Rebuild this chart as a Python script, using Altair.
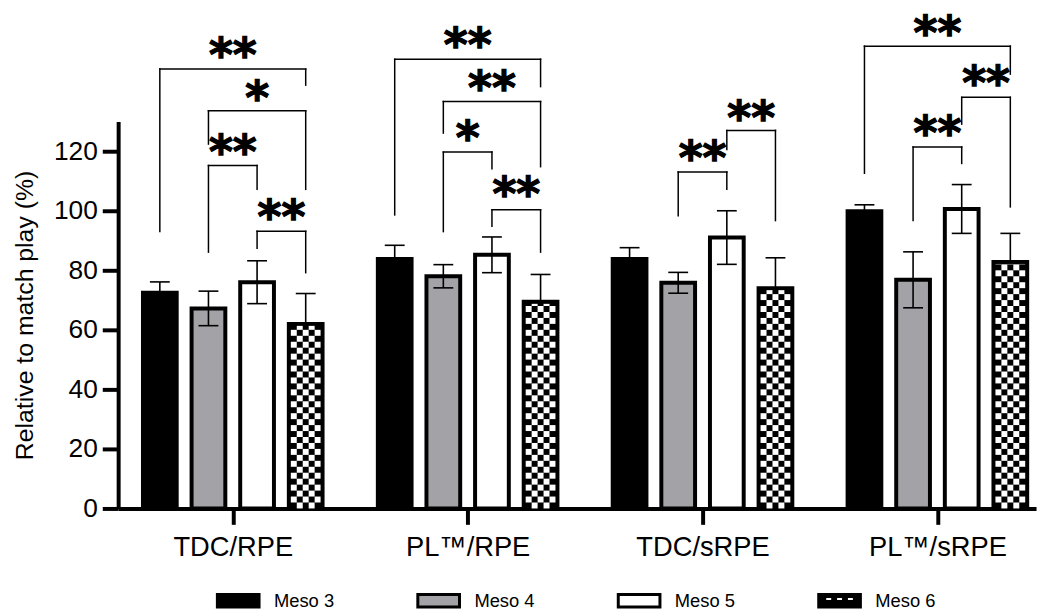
import json
import math
import altair as alt
import pandas as pd

# ---------------- data ----------------
groups = ["TDC/RPE", "PL™/RPE", "TDC/sRPE", "PL™/sRPE"]
series = ["Meso 3", "Meso 4", "Meso 5", "Meso 6"]
meso3 = [72.5, 83.8, 83.8, 99.8]
meso4 = [67.2, 78.0, 75.8, 76.8]
meso5 = [76.0, 85.2, 91.0, 100.6]
meso6 = [62.0, 69.4, 74.0, 82.8]
sd3 = [3.6, 4.6, 3.8, 2.2]
sd4 = [5.8, 3.9, 3.5, 9.4]
sd5 = [7.2, 6.0, 9.0, 8.2]
sd6 = [10.2, 9.2, 10.2, 9.6]
y_ticks = [0, 20, 40, 60, 80, 100, 120]

# significance brackets
br_group = [0, 0, 0, 0, 1, 1, 1, 1, 2, 2, 3, 3, 3]
br_left = [0, 1, 1, 2, 0, 1, 1, 2, 1, 2, 0, 2, 1]
br_right = [3, 3, 2, 3, 3, 3, 2, 3, 2, 3, 3, 3, 2]
br_level = [147.6, 133.6, 115.2, 93.1, 150.9, 136.7, 119.7, 100.3, 113.0, 127.0, 155.3, 138.1, 121.4]
br_foot_l = [93.0, 122.4, 86.1, 87.4, 98.6, 126.1, 93.0, 94.8, 98.3, 120.6, 112.6, 129.1, 96.7]
br_foot_r = [142.2, 107.2, 107.2, 79.2, 141.7, 114.8, 114.1, 86.1, 107.2, 96.7, 145.9, 101.3, 115.9]
br_label = ["**", "*", "**", "**", "**", "**", "*", "**", "**", "**", "**", "**", "**"]
br_text_y = [155.0, 140.5, 122.2, 100.6, 158.3, 143.9, 127.2, 108.1, 120.2, 133.9, 162.4, 145.6, 128.7]

# ---------------- layout ----------------
W, H = 925, 390
X_DOM = [-0.488, 3.42]
Y_DOM = [0, 130]
pxu = W / (X_DOM[1] - X_DOM[0])      # px per x unit
pyu = H / (Y_DOM[1] - Y_DOM[0])      # px per y unit
BAR_STEP = 49 / pxu
BAR_HALF = 17 / pxu
CAP_HALF = 10 / pxu
INNER_HALF = 15 / pxu
CELL_X = 6 / pxu
CELL_Y = 6 / pyu

values = [meso3, meso4, meso5, meso6]
sds = [sd3, sd4, sd5, sd6]

def xpos(g, s):
    return g + (s - 1.5) * BAR_STEP

rows = []
for g in range(len(groups)):
    for s in range(len(series)):
        v = values[s][g]
        e = sds[s][g]
        xc = xpos(g, s)
        rows.append(dict(series=series[s], x=xc, xl=xc - BAR_HALF, xr=xc + BAR_HALF,
                         cl=xc - CAP_HALF, cr=xc + CAP_HALF, value=v, base=0.0,
                         hi=v + e, lo=v - e, lower=(s in (1, 2))))
bars = pd.DataFrame(rows)

# checker pattern cells (white) inside the Meso 6 bars
cells = []
for g in range(len(groups)):
    v = meso6[g]
    top = v - 2 / pyu
    x0 = xpos(g, 3) - INNER_HALF
    nrow = math.ceil(top / CELL_Y)
    for r in range(nrow):
        for c in range(5):
            if (r + c) % 2 == 1:
                cells.append(dict(x=x0 + c * CELL_X, x2=x0 + (c + 1) * CELL_X,
                                  y=r * CELL_Y, y2=min((r + 1) * CELL_Y, top)))
checker = pd.DataFrame(cells)

# bracket segments
segs, texts = [], []
for i in range(len(br_group)):
    xl = xpos(br_group[i], br_left[i])
    xr = xpos(br_group[i], br_right[i])
    segs.append(dict(x=xl, x2=xr, y=br_level[i], y2=br_level[i]))
    segs.append(dict(x=xl, x2=xl, y=br_foot_l[i], y2=br_level[i]))
    segs.append(dict(x=xr, x2=xr, y=br_foot_r[i], y2=br_level[i]))
    texts.append(dict(x=(xl + xr) / 2, y=br_text_y[i], label=br_label[i]))
segs = pd.DataFrame(segs)
texts = pd.DataFrame(texts)

legend_df = pd.DataFrame({"series": series})

# ---------------- scales ----------------
xs = alt.Scale(domain=X_DOM, nice=False, zero=False)
ys = alt.Scale(domain=Y_DOM, nice=False, zero=False)
fill_colors = ["#000000", "#a3a3a7", "#ffffff", "#000000"]
color_scale = alt.Scale(domain=series, range=fill_colors)

rect_path = "M-1,-0.3H1V0.3H-1Z"
holes = "".join(
    f"M{c - 0.19:.3f},-0.2V0.04H{c + 0.19:.3f}V-0.2Z" for c in (-0.52, 0.0, 0.52)
)
shape_scale = alt.Scale(domain=series, range=[rect_path, rect_path, rect_path, rect_path + holes])

# legend row placement (pixels, relative to the plot area)
LEG_X = [121, 727]
LEG_Y = 483
SWATCH = 42

label_expr = json.dumps(groups, ensure_ascii=False) + "[datum.value]"

FONT = "Liberation Sans"

x_axis = alt.Axis(values=[0, 1, 2, 3], labelExpr=label_expr, title=None, grid=False,
                  labelFontSize=27.5, labelPadding=9, tickSize=16, tickWidth=4,
                  domainWidth=4, labelColor="black", tickColor="black",
                  domainColor="black", labelFont=FONT)
y_axis = alt.Axis(values=y_ticks, title="Relative to match play (%)", grid=False,
                  labelFontSize=26.5, labelPadding=5, tickSize=16, tickWidth=4,
                  domainWidth=4, titleFontSize=25, titleFontWeight="normal",
                  titlePadding=16, labelColor="black", titleColor="black",
                  tickColor="black", domainColor="black", labelFont=FONT, titleFont=FONT)


def X(field):
    return alt.X(field, scale=xs, axis=x_axis)


def Y(field):
    return alt.Y(field, scale=ys, axis=y_axis)


bar_layer = alt.Chart(bars).mark_rect(stroke="black", strokeWidth=4, clip=False).encode(
    x=X("xl:Q"), x2="xr",
    y=Y("value:Q"), y2="base",
    color=alt.Color("series:N", scale=color_scale, legend=None),
)

checker_layer = alt.Chart(checker).mark_rect(fill="white", strokeWidth=0, clip=False).encode(
    x=X("x:Q"), x2="x2",
    y=Y("y:Q"), y2="y2",
)

stem_up = alt.Chart(bars).mark_rule(color="black", strokeWidth=1.6, clip=False).encode(
    x=X("x:Q"), y=Y("value:Q"), y2="hi",
)
cap_up = alt.Chart(bars).mark_rule(color="black", strokeWidth=1.6, clip=False).encode(
    x=X("cl:Q"), x2="cr", y=Y("hi:Q"),
)
stem_lo = alt.Chart(bars).transform_filter("datum.lower").mark_rule(
    color="black", strokeWidth=1.6, clip=False).encode(
    x=X("x:Q"), y=Y("lo:Q"), y2="value",
)
cap_lo = alt.Chart(bars).transform_filter("datum.lower").mark_rule(
    color="black", strokeWidth=1.6, clip=False).encode(
    x=X("cl:Q"), x2="cr", y=Y("lo:Q"),
)

bracket_layer = alt.Chart(segs).mark_rule(color="black", strokeWidth=1.5, strokeCap="square",
                                          clip=False).encode(
    x=X("x:Q"), x2="x2", y=Y("y:Q"), y2="y2",
)

star_layer = alt.Chart(texts).mark_text(font="DejaVu Sans", fontWeight="bold", fontSize=46,
                                        baseline="middle", align="center", dy=10, color="black",
                                        stroke="black", strokeWidth=1.3,
                                        clip=False).encode(
    x=X("x:Q"), y=Y("y:Q"), text="label:N",
)

main = alt.layer(bar_layer, checker_layer, stem_up, cap_up, stem_lo, cap_lo,
                 bracket_layer, star_layer)

# custom legend row
leg_x = alt.X("series:N", scale=alt.Scale(type="point", domain=series, range=LEG_X, padding=0),
              axis=None)
legend_swatch = alt.Chart(legend_df).mark_point(
    filled=True, size=SWATCH * SWATCH, stroke="black", strokeWidth=3, opacity=1, clip=False
).encode(
    x=leg_x,
    y=alt.value(LEG_Y),
    color=alt.Color("series:N", scale=color_scale, legend=None),
    shape=alt.Shape("series:N", scale=shape_scale, legend=None),
)
legend_text = alt.Chart(legend_df).mark_text(
    align="left", baseline="middle", dx=SWATCH / 2 + 15, font=FONT, fontSize=18.5,
    color="black", clip=False
).encode(
    x=leg_x,
    y=alt.value(LEG_Y),
    text="series:N",
)
legend_row = alt.layer(legend_swatch, legend_text)

chart = alt.layer(main, legend_row).resolve_scale(x="independent").properties(
    width=W, height=H,
    padding={"left": 111, "top": 112, "right": 5, "bottom": 100},
    autosize=alt.AutoSizeParams(type="none"),
).configure_view(stroke=None)

chart.save("out.html", embed_options={"renderer": "svg", "actions": False})
